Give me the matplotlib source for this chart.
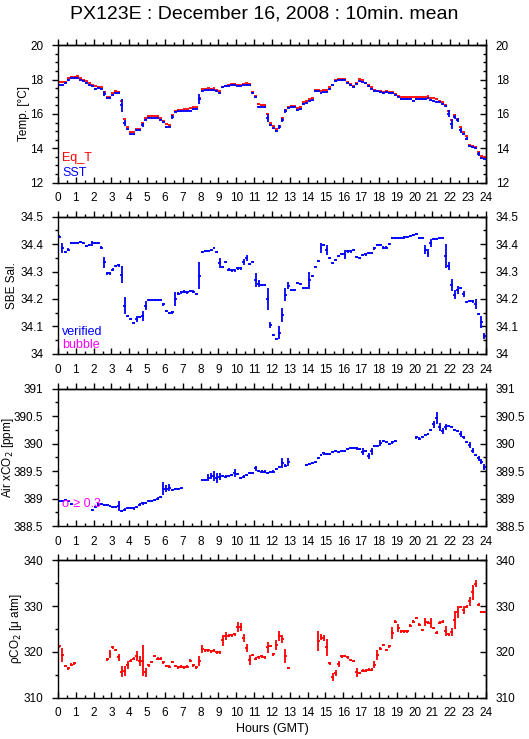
import numpy as np
import matplotlib
matplotlib.use('Agg')
import matplotlib.pyplot as plt
from matplotlib.ticker import MultipleLocator, FormatStrFormatter, NullFormatter

plt.rcParams['font.family'] = ['Liberation Sans', 'DejaVu Sans']

# 10-minute slots, 0:00 .. 23:50 (144 values per series)
nan = np.nan

sst = [17.70, 17.70, 17.80, 17.98, 18.10, 18.10,
       18.10, 18.00, 17.90, 17.80, 17.70, 17.60,
       17.45, 17.50, 17.48, 17.18, 16.90, 16.90,
       17.13, 17.23, 17.23, 16.50, 15.47, 15.10,
       14.82, 14.82, 15.05, 15.05, 15.38, 15.67,
       15.78, 15.75, 15.75, 15.78, 15.67, 15.51,
       15.24, 15.26, 15.82, 16.13, 16.16, 16.16,
       16.20, 16.20, 16.20, 16.28, 16.30, 16.88,
       17.36, 17.38, 17.40, 17.38, 17.40, 17.32,
       17.24, 17.55, 17.62, 17.63, 17.66, 17.66,
       17.64, 17.64, 17.67, 17.70, 17.67, 17.22,
       16.97, 16.43, 16.42, 16.40, 15.78, 15.36,
       15.16, 15.00, 15.24, 15.67, 16.17, 16.36,
       16.40, 16.40, 16.24, 16.28, 16.59, 16.66,
       16.78, 16.80, 17.32, 17.32, 17.20, 17.26,
       17.30, 17.45, 17.70, 17.90, 17.95, 17.95,
       17.95, 17.78, 17.69, 17.58, 17.76, 17.90,
       17.88, 17.78, 17.62, 17.48, 17.36, 17.32,
       17.28, 17.20, 17.28, 17.24, 17.20, 17.13,
       17.01, 16.88, 16.88, 16.88, 16.88, 16.78,
       16.86, 16.86, 16.86, 16.88, 16.92, 16.80,
       16.76, 16.72, 16.67, 16.58, 16.44, 16.01,
       15.43, 15.82, 15.63, 15.05, 14.82, 14.57,
       14.12, 14.05, 13.99, 13.66, 13.43, 13.40]

eq_t = [17.84, 17.84, 17.84, 18.07, 18.17, 18.17,
        18.20, 18.10, 18.00, 17.90, 17.80, 17.70,
        17.62, 17.58, 17.58, 17.26, 17.00, 17.00,
        17.20, 17.32, 17.28, 16.78, 15.72, 15.24,
        14.95, 14.95, 15.13, 15.13, 15.47, 15.76,
        15.86, 15.86, 15.86, 15.86, 15.78, 15.59,
        15.40, 15.38, 15.96, 16.20, 16.24, 16.24,
        16.30, 16.30, 16.32, 16.40, 16.40, 16.95,
        17.44, 17.46, 17.50, 17.46, 17.50, 17.42,
        17.34, 17.55, 17.63, 17.69, 17.75, 17.75,
        17.69, 17.69, 17.75, 17.78, 17.75, 17.30,
        17.07, 16.59, 16.50, 16.50, 15.97, 15.47,
        15.30, 15.14, 15.30, 15.78, 16.24, 16.43,
        16.45, 16.45, 16.36, 16.40, 16.69, 16.75,
        16.88, 16.92, 17.40, 17.40, 17.32, 17.40,
        17.40, 17.55, 17.70, 17.98, 18.06, 18.02,
        18.02, 17.88, 17.75, 17.63, 17.82, 18.01,
        17.98, 17.82, 17.69, 17.55, 17.40, 17.36,
        17.34, 17.28, 17.32, 17.30, 17.28, 17.17,
        17.05, 16.98, 16.98, 16.98, 16.98, 16.98,
        16.98, 16.98, 16.98, 16.98, 17.02, 16.90,
        16.90, 16.85, 16.74, 16.70, 16.55, 16.20,
        15.66, 15.92, 15.72, 15.24, 14.95, 14.70,
        14.18, 14.15, 14.08, 13.80, 13.55, 13.50]

salinity = [34.427, 34.387, 34.370, 34.380, 34.405, 34.405,
            34.405, 34.407, 34.405, 34.393, 34.396, 34.402,
            34.405, 34.405, 34.387, 34.334, 34.293, 34.293,
            34.307, 34.320, 34.322, 34.289, 34.176, 34.139,
            34.127, 34.112, 34.127, 34.134, 34.137, 34.176,
            34.195, 34.195, 34.195, 34.195, 34.195, 34.180,
            34.157, 34.149, 34.151, 34.200, 34.220, 34.224,
            34.227, 34.224, 34.229, 34.227, 34.218, 34.285,
            34.372, 34.374, 34.374, 34.378, 34.385, 34.372,
            34.332, 34.316, 34.334, 34.307, 34.304, 34.304,
            34.311, 34.311, 34.334, 34.350, 34.326, 34.335,
            34.268, 34.256, 34.251, 34.251, 34.200, 34.106,
            34.070, 34.054, 34.078, 34.143, 34.216, 34.249,
            34.234, 34.234, 34.259, 34.254, 34.241, 34.239,
            34.268, 34.285, 34.316, 34.338, 34.387, 34.395,
            34.378, 34.349, 34.332, 34.341, 34.356, 34.365,
            34.362, 34.373, 34.373, 34.378, 34.352, 34.348,
            34.359, 34.362, 34.368, 34.368, 34.384, 34.396,
            34.396, 34.387, 34.387, 34.399, 34.422, 34.423,
            34.421, 34.422, 34.424, 34.426, 34.429, 34.434,
            34.437, 34.421, 34.421, 34.380, 34.368, 34.405,
            34.417, 34.417, 34.423, 34.423, 34.356, 34.320,
            34.252, 34.216, 34.232, 34.240, 34.218, 34.190,
            34.193, 34.191, 34.182, 34.145, 34.115, 34.066]

air_xco2 = [388.96, 388.96, 388.97, 388.96, 388.90, nan,
            nan, nan, nan, nan, nan, 388.79,
            388.84, 388.89, 388.90, 388.88, 388.88, 388.86,
            388.85, 388.85, 388.86, 388.78, 388.80, 388.83,
            388.83, 388.82, 388.85, 388.89, 388.91, 388.92,
            388.96, 388.96, 388.97, 389.00, 389.03, 389.18,
            389.18, 389.20, 389.15, 389.17, 389.18, 389.19,
            nan, nan, nan, nan, nan, nan,
            389.34, 389.34, 389.38, 389.41, 389.41, 389.38,
            389.40, 389.41, 389.40, 389.41, 389.43, 389.46,
            389.44, 389.38, 389.40, 389.43, 389.46, 389.47,
            389.55, 389.50, 389.49, 389.49, 389.47, 389.48,
            389.49, 389.53, 389.57, 389.64, 389.60, 389.67,
            nan, nan, nan, nan, nan, 389.61,
            389.63, 389.65, 389.67, 389.73, 389.79, 389.82,
            389.81, 389.81, 389.84, 389.86, 389.85, 389.86,
            389.87, 389.90, 389.92, 389.92, 389.91, 389.90,
            389.85, 389.86, 389.77, 389.86, 389.95, 389.96,
            390.01, 390.05, 390.03, 389.99, 390.02, 390.04,
            nan, nan, nan, nan, nan, nan,
            390.11, 390.09, 390.12, 390.16, 390.18, 390.24,
            390.35, 390.47, 390.30, 390.23, 390.30, 390.32,
            390.30, 390.24, 390.23, 390.17, 390.11, 390.03,
            389.97, 389.87, 389.79, 389.73, 389.67, 389.57]

pco2 = [321.2, 319.3, 316.9, 316.4, 317.2, 317.5,
        nan, nan, nan, nan, nan, nan,
        nan, nan, nan, nan, 318.4, 319.6,
        321.0, 320.4, 318.8, 315.7, 315.8, 317.1,
        318.1, 318.5, 319.0, 318.1, 318.1, 315.5,
        317.1, 317.8, 319.1, 318.5, 318.5, 317.7,
        316.9, 316.8, 317.8, 316.9, 316.6, 316.8,
        316.6, 316.8, 318.1, 317.1, 316.6, 318.1,
        320.6, 320.3, 320.3, 320.1, 320.3, 319.9,
        319.9, 322.5, 323.4, 323.5, 323.6, 323.8,
        325.4, 325.4, 323.0, 320.8, 318.2, 319.3,
        318.5, 318.8, 319.0, 318.8, 321.0, 321.3,
        319.5, 321.5, 323.5, 322.8, 319.1, 316.5,
        nan, nan, nan, nan, nan, nan,
        nan, nan, nan, 322.3, 323.2, 323.0,
        321.0, 317.5, 314.5, 315.4, 317.3, 319.0,
        319.1, 318.8, 318.2, 318.0, 315.5, 315.4,
        315.9, 315.9, 316.1, 316.1, 317.2, 319.3,
        320.7, 321.5, 320.4, 321.2, 324.1, 326.6,
        325.2, 324.5, 324.5, 324.5, 325.7, 326.6,
        327.4, 325.9, 324.8, 326.5, 326.4, 326.4,
        325.2, 324.2, 326.4, 326.6, 324.5, 323.8,
        324.4, 327.0, 328.8, 329.8, 329.2, 329.9,
        331.0, 333.0, 334.9, 330.3, 328.7, 328.7]

# standard deviations: small default, larger where the picture shows long bars
sst_sd_idx = [3, 15, 21, 22, 28, 38, 47, 70, 74, 75, 76, 131, 132, 133, 134, 135, 137, 141, 142]
sst_sd_val = [0.08, 0.13, 0.38, 0.2, 0.12, 0.12, 0.29, 0.24, 0.1, 0.12, 0.1, 0.2, 0.3, 0.1, 0.12, 0.15, 0.1, 0.12, 0.08]

sal_sd_idx = [1, 11, 15, 21, 22, 26, 28, 29, 39, 47, 54, 62, 63, 66, 67, 70, 71, 74, 75, 76, 77,
              84, 88, 90, 96, 123, 124, 125, 130, 131, 132, 133, 134, 136, 140, 142, 143]
sal_sd_val = [0.018, 0.01, 0.02, 0.03, 0.03, 0.01, 0.018, 0.015, 0.027, 0.049, 0.018, 0.012, 0.01,
              0.025, 0.012, 0.04, 0.012, 0.025, 0.025, 0.025, 0.012, 0.03, 0.018, 0.018, 0.015,
              0.017, 0.015, 0.015, 0.045, 0.015, 0.022, 0.015, 0.015, 0.012, 0.018, 0.022, 0.012]

air_sd_idx = [20, 35, 36, 37, 50, 51, 52, 53, 54, 59, 66, 75, 77, 102, 104, 105, 108,
              126, 127, 128, 129, 130, 135, 138, 139, 141, 142, 143]
air_sd_val = [0.09, 0.12, 0.06, 0.07, 0.06, 0.06, 0.09, 0.09, 0.07, 0.07, 0.05, 0.09, 0.07, 0.06,
              0.06, 0.06, 0.05, 0.06, 0.11, 0.07, 0.06, 0.06, 0.05, 0.06, 0.05, 0.05, 0.05, 0.06]

pco2_sd_idx = [1, 17, 20, 21, 22, 23, 26, 27, 28, 29, 47, 48, 55, 56, 60, 61, 62, 63, 64, 70, 73,
               74, 75, 76, 87, 88, 89, 90, 92, 93, 94, 100, 106, 107, 112, 114, 123, 125, 130,
               132, 133, 134, 136, 138, 139, 140]
pco2_sd_val = [1.5, 0.9, 0.7, 1.2, 1.1, 0.9, 1.1, 1.1, 3.3, 0.9, 1.1, 0.9, 1.2, 0.9, 1.1, 0.9, 0.9,
               0.9, 1.1, 1.2, 1.2, 1.1, 0.9, 1.6, 2.2, 0.7, 0.7, 1.8, 0.9, 0.6, 0.6, 0.9, 0.7, 1.0,
               1.3, 0.9, 0.9, 1.1, 1.1, 0.9, 2.0, 1.3, 0.9, 0.9, 1.6, 0.7]


def make_sd(default, idx, val):
    sd = np.full(144, default)
    sd[idx] = val
    return sd


t = (np.arange(144) + 0.5) / 6.0
half = 1.0 / 12.0

BLUE = '#0000ff'
RED = '#ff0000'
MAGENTA = '#ff00ff'

fig = plt.figure(figsize=(5.29, 7.39), dpi=100)
left, width, height = 0.1096, 0.809, 0.186
bottoms = [0.7528, 0.521, 0.2882, 0.0559]
axes = [fig.add_axes([left, b, width, height]) for b in bottoms]


def setup(ax, ylim, major, minor, ylabel, xlab):
    ax.set_xlim(0, 24)
    ax.set_ylim(*ylim)
    ax.xaxis.set_major_locator(MultipleLocator(1))
    ax.xaxis.set_minor_locator(MultipleLocator(0.5))
    ax.yaxis.set_major_locator(MultipleLocator(major))
    ax.yaxis.set_minor_locator(MultipleLocator(minor))
    ax.yaxis.set_major_formatter(FormatStrFormatter('%g'))
    ax.tick_params(axis='x', which='both', direction='in', top=False, labelsize=8.5, pad=7, width=1)
    ax.tick_params(axis='y', which='both', direction='out', right=False, labelsize=8.5, pad=6, width=1)
    ax.tick_params(which='major', length=4.5)
    ax.tick_params(which='minor', length=2.5)
    for s in ax.spines.values():
        s.set_linewidth(1.0)

    top = ax.secondary_xaxis('top')
    top.xaxis.set_major_locator(MultipleLocator(1))
    top.xaxis.set_minor_locator(MultipleLocator(0.5))
    top.xaxis.set_major_formatter(NullFormatter())
    top.tick_params(which='both', direction='out', width=1)
    top.tick_params(which='major', length=4.5)
    top.tick_params(which='minor', length=2.5)
    top.spines['top'].set_linewidth(1.0)

    right = ax.secondary_yaxis('right')
    right.yaxis.set_major_locator(MultipleLocator(major))
    right.yaxis.set_minor_locator(MultipleLocator(minor))
    right.yaxis.set_major_formatter(FormatStrFormatter('%g'))
    right.tick_params(which='both', direction='in', labelsize=8.5, pad=7, width=1)
    right.tick_params(which='major', length=4.5)
    right.tick_params(which='minor', length=2.5)
    right.spines['right'].set_linewidth(1.0)

    ax.set_ylabel(ylabel, fontsize=8.5)
    ax.yaxis.set_label_coords(xlab, 0.5)


ebar = dict(fmt='none', capsize=0, elinewidth=1.3)

# Temperature
ax = axes[0]
ax.errorbar(t, eq_t, xerr=half, ecolor=RED, **ebar)
ax.errorbar(t, sst, xerr=half, yerr=make_sd(0.04, sst_sd_idx, sst_sd_val), ecolor=BLUE, **ebar)
setup(ax, (12, 20), 2, 0.5, 'Temp. [°C]', -0.065)
ax.text(0.01, 0.178, 'Eq_T', color=RED, fontsize=9, transform=ax.transAxes, va='center')
ax.text(0.01, 0.07, 'SST', color=BLUE, fontsize=9, transform=ax.transAxes, va='center')

# Salinity
ax = axes[1]
ax.errorbar(t, salinity, xerr=half, yerr=make_sd(0.004, sal_sd_idx, sal_sd_val), ecolor=BLUE, **ebar)
setup(ax, (34.0, 34.5), 0.1, 0.05, 'SBE Sal.', -0.093)
ax.text(0.01, 0.161, 'verified', color=BLUE, fontsize=9, transform=ax.transAxes, va='center')
ax.text(0.01, 0.066, 'bubble', color=MAGENTA, fontsize=9, transform=ax.transAxes, va='center')

# Air xCO2
ax = axes[2]
ax.errorbar(t, air_xco2, xerr=half, yerr=make_sd(0.02, air_sd_idx, air_sd_val), ecolor=BLUE, **ebar)
setup(ax, (388.5, 391), 0.5, 0.25, 'Air xCO$_2$ [ppm]', -0.098)
ax.text(0.01, 0.16, 'σ ≥ 0.3', color=MAGENTA, fontsize=9, transform=ax.transAxes, va='center')

# pCO2
ax = axes[3]
ax.errorbar(t, pco2, xerr=half, yerr=make_sd(0.3, pco2_sd_idx, pco2_sd_val), ecolor=RED, **ebar)
setup(ax, (310, 340), 10, 5, 'ρCO$_2$ [μ atm]', -0.079)

fig.text(0.5, 0.981, 'PX123E : December 16, 2008 : 10min. mean', ha='center', va='center', fontsize=14)
fig.text(272 / 529, 1 - 729 / 739, 'Hours (GMT)', ha='center', va='center', fontsize=9)

fig.savefig('out.png', dpi=100)
